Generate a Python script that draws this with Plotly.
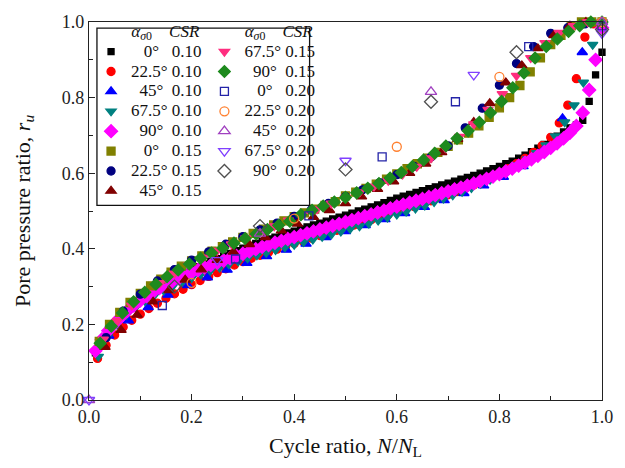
import numpy as np
import plotly.graph_objects as go

# Pore pressure ratio r_u read per loading cycle; cycle ratio N/N_L = cycle / N_L
# CSR = 0.10
ru_0_010 = [0.125, 0.158, 0.183, 0.204, 0.222, 0.238, 0.253, 0.267, 0.279, 0.291,
            0.302, 0.312, 0.321, 0.330, 0.338, 0.346, 0.353, 0.360, 0.367, 0.374,
            0.381, 0.388, 0.395, 0.402, 0.408, 0.414, 0.420, 0.426, 0.431, 0.437,
            0.442, 0.447, 0.452, 0.458, 0.463, 0.468, 0.473, 0.479, 0.484, 0.489,
            0.494, 0.500, 0.505, 0.511, 0.516, 0.522, 0.528, 0.534, 0.539, 0.544,
            0.549, 0.554, 0.559, 0.564, 0.569, 0.574, 0.579, 0.584, 0.589, 0.594,
            0.600, 0.606, 0.612, 0.618, 0.625, 0.632, 0.640, 0.648, 0.657, 0.666,
            0.676, 0.687, 0.698, 0.709, 0.720, 0.728, 0.740, 0.790, 0.860, 0.920]
ru_225_010 = [0.110, 0.145, 0.172, 0.193, 0.211, 0.227, 0.242, 0.256, 0.269, 0.281,
              0.293, 0.305, 0.316, 0.327, 0.337, 0.347, 0.357, 0.366, 0.375, 0.383,
              0.391, 0.399, 0.407, 0.414, 0.421, 0.428, 0.435, 0.442, 0.449, 0.456,
              0.463, 0.470, 0.477, 0.484, 0.491, 0.498, 0.505, 0.512, 0.519, 0.527,
              0.535, 0.543, 0.551, 0.560, 0.569, 0.579, 0.589, 0.600, 0.612, 0.625,
              0.639, 0.655, 0.673, 0.695, 0.733, 0.780, 0.850, 0.960, 0.995, 1.000]
ru_45_010 = [0.170, 0.210, 0.245, 0.278, 0.303, 0.324, 0.344, 0.362, 0.380, 0.397,
             0.413, 0.430, 0.446, 0.462, 0.478, 0.494, 0.510, 0.528, 0.547, 0.567,
             0.590, 0.618, 0.660, 0.745, 0.920, 1.000]
ru_675_010 = [0.115, 0.170, 0.200, 0.225, 0.245, 0.262, 0.277, 0.290, 0.302, 0.313,
              0.323, 0.333, 0.342, 0.351, 0.359, 0.367, 0.375, 0.383, 0.390, 0.397,
              0.404, 0.411, 0.418, 0.425, 0.432, 0.439, 0.446, 0.453, 0.460, 0.467,
              0.475, 0.483, 0.491, 0.499, 0.507, 0.515, 0.524, 0.533, 0.542, 0.551,
              0.561, 0.572, 0.583, 0.595, 0.608, 0.622, 0.637, 0.654, 0.674, 0.698,
              0.735, 0.780, 0.840, 0.940, 1.000]
ru_90_010 = [0.130, 0.160, 0.183, 0.203, 0.220, 0.236, 0.250, 0.263, 0.275, 0.286,
             0.296, 0.305, 0.314, 0.322, 0.330, 0.337, 0.344, 0.351, 0.357, 0.363,
             0.369, 0.375, 0.381, 0.387, 0.393, 0.399, 0.405, 0.410, 0.416, 0.421,
             0.426, 0.431, 0.436, 0.441, 0.446, 0.451, 0.456, 0.461, 0.466, 0.471,
             0.476, 0.481, 0.486, 0.491, 0.496, 0.501, 0.507, 0.512, 0.517, 0.522,
             0.527, 0.532, 0.537, 0.542, 0.547, 0.552, 0.557, 0.562, 0.567, 0.573,
             0.579, 0.585, 0.591, 0.598, 0.605, 0.612, 0.620, 0.628, 0.637, 0.646,
             0.656, 0.667, 0.679, 0.692, 0.707, 0.725, 0.760, 0.820, 0.900, 0.985]

# CSR = 0.15
ru_0_015 = [0.155, 0.200, 0.232, 0.258, 0.282, 0.302, 0.320, 0.338, 0.354, 0.368,
            0.381, 0.394, 0.406, 0.418, 0.430, 0.441, 0.452, 0.463, 0.474, 0.485,
            0.495, 0.505, 0.515, 0.525, 0.540, 0.550, 0.560, 0.571, 0.584, 0.598,
            0.612, 0.625, 0.640, 0.655, 0.671, 0.688, 0.706, 0.725, 0.748, 0.773,
            0.800, 0.832, 0.868, 0.905, 0.940, 0.965, 0.990, 1.000, 1.000, 1.000]
ru_225_015 = [0.165, 0.235, 0.280, 0.315, 0.345, 0.370, 0.392, 0.412, 0.432, 0.450,
              0.468, 0.486, 0.503, 0.520, 0.538, 0.556, 0.575, 0.596, 0.618, 0.643,
              0.672, 0.720, 0.772, 0.833, 0.890, 0.935, 0.970, 0.985, 0.995, 1.000]
ru_45_015 = [0.140, 0.185, 0.225, 0.260, 0.290, 0.318, 0.345, 0.370, 0.392, 0.412,
             0.430, 0.448, 0.466, 0.484, 0.502, 0.520, 0.538, 0.558, 0.578, 0.600,
             0.625, 0.655, 0.690, 0.735, 0.785, 0.840, 0.885, 0.930, 0.965, 0.990,
             1.000, 1.000]
ru_675_015 = [0.160, 0.210, 0.250, 0.283, 0.310, 0.335, 0.357, 0.377, 0.395, 0.412,
              0.428, 0.444, 0.460, 0.475, 0.490, 0.505, 0.520, 0.535, 0.550, 0.565,
              0.580, 0.597, 0.617, 0.640, 0.667, 0.697, 0.730, 0.768, 0.810, 0.858,
              0.905, 0.945, 0.972, 0.990, 1.000, 1.000]
ru_90_015 = [0.150, 0.195, 0.230, 0.260, 0.285, 0.306, 0.326, 0.344, 0.360, 0.375,
             0.389, 0.402, 0.415, 0.427, 0.439, 0.451, 0.462, 0.473, 0.490, 0.502,
             0.513, 0.524, 0.536, 0.548, 0.560, 0.573, 0.587, 0.602, 0.618, 0.635,
             0.653, 0.672, 0.692, 0.712, 0.735, 0.760, 0.790, 0.826, 0.865, 0.905,
             0.935, 0.955, 0.975, 0.990, 1.000, 1.000]

# CSR = 0.20 (first entry at cycle 0 where present)
ru_0_020 = [0.250, 0.373, 0.487, 0.643, 0.789, 0.935, 0.990]
ru_225_020 = [0.310, 0.480, 0.670, 0.855, 1.000]
ru_45_020 = [0.0, 0.440, 0.815, 1.000]
ru_675_020 = [0.0, 0.370, 0.633, 0.860, 0.970]
ru_90_020 = [0.300, 0.460, 0.610, 0.789, 0.920, 0.980]

angles = ["0°", "22.5°", "45°", "67.5°", "90°"]
csr_labels = ["0.10", "0.15", "0.20"]


def cycle_ratio(ru, from_zero=False):
    n = len(ru)
    if from_zero:
        return np.arange(0, n) / (n - 1)
    return np.arange(1, n + 1) / n


NB = "\u00a0"
pads = {"0°": (3, 2), "22.5°": (0, 0), "45°": (2, 1), "67.5°": (0, 0), "90°": (2, 1)}


def label(angle, csr):
    a, b = pads[angle]
    return f'<span style="font-size:17px">{NB * a}{angle}{NB * b} {csr}</span>'


series = [
    # (ru, from_zero, angle, csr, symbol, fill, line colour, size)
    (ru_0_010, False, "0°", "0.10", "square", "#000000", "#000000", 6),
    (ru_225_010, False, "22.5°", "0.10", "circle", "#FF0000", "#FF0000", 8),
    (ru_45_010, False, "45°", "0.10", "triangle-up", "#0000FF", "#0000FF", 9),
    (ru_675_010, False, "67.5°", "0.10", "triangle-down", "#008080", "#008080", 9),
    (ru_90_010, False, "90°", "0.10", "diamond", "#FF00FF", "#FF00FF", 10),
    (ru_0_015, False, "0°", "0.15", "square", "#808000", "#808000", 8),
    (ru_225_015, False, "22.5°", "0.15", "circle", "#000080", "#000080", 8),
    (ru_45_015, False, "45°", "0.15", "triangle-up", "#800000", "#800000", 9),
    (ru_675_015, False, "67.5°", "0.15", "triangle-down", "#FF2D7F", "#FF2D7F", 9),
    (ru_90_015, False, "90°", "0.15", "diamond", "#1E8A1E", "#1E8A1E", 9),
    (ru_0_020, False, "0°", "0.20", "square-open", None, "#2424A8", 8),
    (ru_225_020, False, "22.5°", "0.20", "circle-open", None, "#FF8030", 9),
    (ru_45_020, True, "45°", "0.20", "triangle-up-open", None, "#A040C0", 10),
    (ru_675_020, True, "67.5°", "0.20", "triangle-down-open", None, "#8040FF", 10),
    (ru_90_020, False, "90°", "0.20", "diamond-open", None, "#505050", 10),
]

fig = go.Figure()
for i, (ru, z, ang, csr, sym, fill, lc, size) in enumerate(series):
    marker = dict(symbol=sym, size=size, line=dict(color=lc, width=1.3),
                  color=fill if fill is not None else lc)
    fig.add_trace(go.Scatter(
        x=cycle_ratio(ru, z), y=ru, mode="markers", marker=marker,
        name=label(ang, csr), cliponaxis=False,
        legend="legend" if i < 8 else "legend2",
    ))

serif = "Liberation Serif, Times New Roman, serif"
head = ('<span style="font-size:17px">' + NB * 9 + '<i>α</i><sub><i>σ</i>0</sub>'
        + NB * 4 + '<i>CSR</i></span>')
legend_common = dict(
    font=dict(family=serif, size=13, color="#111"),
    bgcolor="rgba(0,0,0,0)", borderwidth=0,
    xanchor="left", yanchor="top", tracegroupgap=0,
    title=dict(text=head, font=dict(family=serif, size=13, color="#111"), side="top"),
)

axis_common = dict(
    range=[0, 1], showline=True, linecolor="#222", linewidth=1.3, mirror=True,
    ticks="inside", ticklen=6, tickwidth=1.3, tickcolor="#222",
    tickvals=[0, 0.2, 0.4, 0.6, 0.8, 1.0], tickformat=".1f",
    minor=dict(ticks="inside", ticklen=3.5, tickwidth=1.2, tickcolor="#222", dtick=0.1),
    showgrid=False, zeroline=False,
    tickfont=dict(family=serif, size=18, color="#222"),
)

fig.update_layout(
    width=625, height=468,
    margin=dict(l=89, r=19, t=16, b=68),
    paper_bgcolor="white", plot_bgcolor="white",
    xaxis=dict(axis_common, title=dict(text="Cycle ratio, <i>N</i>/<i>N</i><sub>L</sub>",
                                       font=dict(family=serif, size=22, color="#111"),
                                       standoff=11)),
    yaxis=dict(axis_common, title=dict(text="Pore pressure ratio, <i>r</i><sub><i>u</i></sub>",
                                       font=dict(family=serif, size=22, color="#111"),
                                       standoff=25)),
    legend=dict(legend_common, x=0.004, y=1.006),
    legend2=dict(legend_common, x=0.225, y=1.006),
    showlegend=True,
    shapes=[dict(type="rect", xref="paper", yref="paper", x0=0.0155, x1=0.43,
                 y0=0.515, y1=0.984, line=dict(color="#111", width=1.3),
                 fillcolor="white", layer="above")],
)

fig.write_html("out.html")
